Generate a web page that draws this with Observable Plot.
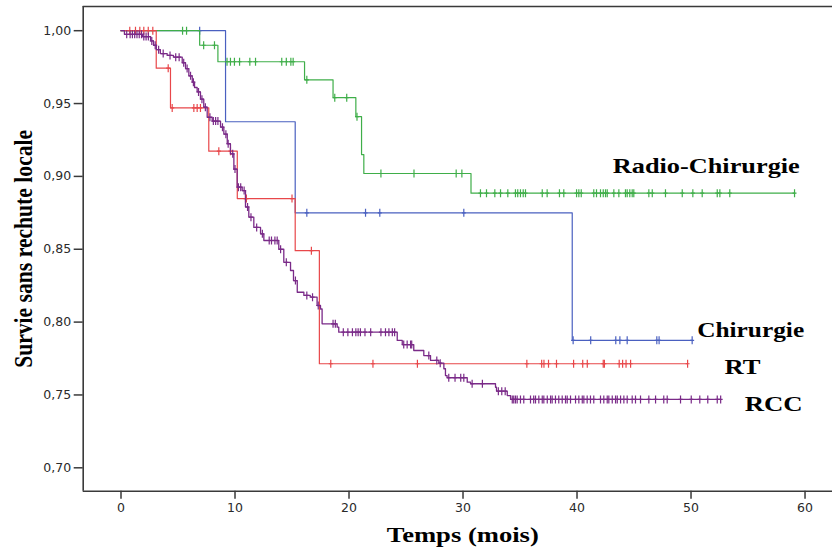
<!DOCTYPE html>
<html><head><meta charset="utf-8">
<script src="https://cdn.jsdelivr.net/npm/d3@7"></script>
<script src="https://cdn.jsdelivr.net/npm/@observablehq/plot@0.6"></script>
<style>html,body{margin:0;padding:0;background:#fff;overflow:hidden}</style>
</head><body><div id="chart"></div>
<script>
// ---- data ----
const seriesNames = ["Chirurgie", "Radio-Chirurgie", "RT", "RCC"];
const seriesColors = ["#4a60c0", "#3fae49", "#e8474a", "#7a2a88"];

const chirEvents = [[9.17,0.9375],[15.28,0.875],[39.58,0.7875]];
const chirEnd = 50.1;
const chirCensor = [6.9,16.3,21.45,22.7,30.07,39.66,41.2,43.4,43.76,44.4,47.0,47.2,50.1];

const radioChirEvents = [[6.9,0.990],[8.5,0.9787],[16.1,0.9663],[18.6,0.954],[20.6,0.941],[21.1,0.915],[21.3,0.902],[30.7,0.8885]];
const radioChirEnd = 59.1;
const radioChirCensor = [5.4,5.75,7.25,8.2,9.3,9.6,9.95,10.4,11.3,11.8,14.1,14.5,14.9,15.1,16.3,18.75,19.8,20.7,22.8,25.7,29.4,29.9,31.53,32.06,32.79,33.29,33.93,34.6,34.8,35.04,35.28,35.48,36.95,37.38,38.46,38.84,39.96,40.16,40.37,41.47,41.71,42.06,42.3,42.5,42.65,43.23,43.67,44.25,44.4,44.63,44.84,44.98,46.3,46.6,47.76,49.23,50.16,50.98,52.3,52.53,53.4,59.08];

const rtEvents = [[3.09,0.9743],[4.34,0.947],[7.7,0.9173],[10.2,0.8848],[15.28,0.849],[17.4,0.7714]];
const rtEnd = 49.7;
const rtCensor = [0.77,1.27,1.65,2.0,2.39,2.79,4.14,4.49,6.39,6.68,6.97,8.58,9.6,10.92,11.0,15.0,16.7,18.4,22.1,26.0,35.6,36.9,37.1,37.5,38.2,39.7,40.5,40.9,42.3,42.4,43.7,44.0,44.3,44.7,49.7];

const rccEvents = [[0.3,0.9975],[1.9,0.996],[2.6,0.993],[2.85,0.990],[3.1,0.987],[3.45,0.9843],[4.05,0.983],[4.6,0.9818],[5.37,0.978],[5.66,0.974],[5.95,0.969],[6.25,0.9647],[6.45,0.961],[6.68,0.958],[6.97,0.953],[7.26,0.9475],[7.56,0.9406],[8.0,0.938],[8.73,0.9338],[9.02,0.929],[9.32,0.9224],[9.6,0.9155],[9.9,0.905],[10.19,0.8926],[10.63,0.8903],[10.92,0.879],[11.21,0.872],[11.65,0.865],[12.24,0.8606],[12.53,0.856],[13.84,0.850],[14.28,0.841],[14.87,0.8354],[15.13,0.8285],[15.46,0.8205],[16.04,0.8183],[16.6,0.8171],[17.2,0.8114],[17.5,0.809],[17.64,0.7988],[18.96,0.7965],[19.1,0.7931],[24.23,0.7874],[24.67,0.7846],[25.68,0.7805],[26.56,0.777],[27.15,0.7737],[27.88,0.7718],[28.32,0.768],[28.46,0.7633],[28.6,0.7618],[30.37,0.7588],[30.66,0.7577],[32.85,0.7553],[32.94,0.7526],[33.88,0.7496],[34.17,0.7469]];
const rccEnd = 52.6;
const rccCensor = [0.5,0.8,1.0,1.2,1.4,1.6,1.8,2.0,2.2,2.4,2.7,3.0,3.3,3.7,4.3,4.8,5.1,5.5,5.8,6.1,6.35,6.8,7.1,7.4,7.8,8.1,8.3,8.5,8.9,9.2,9.4,9.8,10.0,10.3,10.5,10.8,11.1,11.4,11.9,12.4,13.0,13.2,13.5,13.7,14.0,14.5,15.3,16.3,16.8,17.3,18.6,18.8,19.5,19.9,20.3,20.6,20.8,21.0,21.4,21.9,22.8,23.2,23.5,23.8,24.0,24.8,25.1,25.4,25.5,27.0,27.7,28.0,28.75,29.3,29.8,30.07,30.8,31.7,33.1,33.4,33.7,34.32,34.45,34.6,34.75,35.04,35.33,35.92,36.2,36.36,36.65,36.95,37.09,37.39,37.68,37.82,38.11,38.4,38.7,38.99,39.14,39.43,39.87,40.16,40.46,40.6,40.89,41.18,41.47,42.06,42.35,42.65,42.79,43.09,43.38,43.53,43.82,44.11,44.4,44.84,45.13,45.57,46.3,46.89,47.61,47.91,49.08,50.02,50.77,51.47,52.3,52.6];

const xTicks = [0, 10, 20, 30, 40, 50, 60];
const yTicks = [0.70, 0.75, 0.80, 0.85, 0.90, 0.95, 1.00];
const yTickLabels = ["0,70", "0,75", "0,80", "0,85", "0,90", "0,95", "1,00"];
const xLabel = "Temps (mois)";
const yLabel = "Survie sans rechute locale";

// ---- build tables ----
const groups = [
  {name: "Chirurgie", events: chirEvents, end: chirEnd, censor: chirCensor, dx: 5, dy: -9.6, anchor: "start"},
  {name: "Radio-Chirurgie", events: radioChirEvents, end: radioChirEnd, censor: radioChirCensor, dx: 5, dy: -27.2, anchor: "end"},
  {name: "RT", events: rtEvents, end: rtEnd, censor: rtCensor, dx: 37, dy: 3.9, anchor: "start"},
  {name: "RCC", events: rccEvents, end: rccEnd, censor: rccCensor, dx: 24, dy: 5, anchor: "start"}
];
function sAt(events, t) { let s = 1; for (const [et, es] of events) if (et <= t) s = es; return s; }
function curve(g) {
  const pts = [{t: 0, S: 1, series: g.name}];
  for (const [t, s] of g.events) pts.push({t, S: s, series: g.name});
  pts.push({t: g.end, S: sAt(g.events, g.end), series: g.name});
  return pts;
}
function censorPts(g) { return g.censor.map(t => ({t, S: sAt(g.events, t), series: g.name})); }

const vtick = {draw(ctx) { ctx.moveTo(0, -4); ctx.lineTo(0, 4); ctx.moveTo(-2, 0); ctx.lineTo(2, 0); }};

const xDomain = [-3.316, 62.41];
const yDomain = [0.68394, 1.01661];
const axisColor = "#3a3a3a";

const marks = [
  Plot.ruleX([xDomain[0]], {stroke: axisColor, strokeWidth: 1.6}),
  Plot.ruleY([yDomain[0], yDomain[1]], {stroke: axisColor, strokeWidth: 1.6}),
  Plot.axisY(yTicks, {tickSize: 9, tickPadding: 3, tickFormat: d => yTickLabels[yTicks.indexOf(d)],
    fontSize: 12.5, fontFamily: "DejaVu Sans", fill: "#2a2a2a", stroke: axisColor, strokeWidth: 1.5, label: null}),
  Plot.axisX(xTicks, {tickSize: 8, tickPadding: 4, fontSize: 12.5, fontFamily: "DejaVu Sans",
    fill: "#2a2a2a", stroke: axisColor, strokeWidth: 1.5, label: null})
];
for (const g of groups) {
  const col = seriesColors[seriesNames.indexOf(g.name)];
  marks.push(Plot.line(curve(g), {x: "t", y: "S", curve: "step-after", stroke: col, strokeWidth: g.name === "RCC" ? 1.3 : 1.2}));
  marks.push(Plot.dot(censorPts(g), {x: "t", y: "S", symbol: vtick, r: 4, stroke: col, fill: "none", strokeWidth: 1.2}));
}
for (const g of groups) {
  const last = curve(g).at(-1);
  marks.push(Plot.text([last], {x: "t", y: "S", text: () => g.name, dx: g.dx, dy: g.dy, textAnchor: g.anchor,
    lineAnchor: "middle", fontFamily: "Liberation Serif", fontWeight: "bold", fontSize: 21, fill: "#000"}));
}
marks.push(Plot.text([xLabel], {frameAnchor: "bottom", text: d => d, dx: 5, dy: 44.3, textAnchor: "middle", lineAnchor: "middle",
  fontFamily: "Liberation Serif", fontWeight: "bold", fontSize: 20, fill: "#000"}));
marks.push(Plot.text([yLabel], {frameAnchor: "left", text: d => d, dx: -59.7, rotate: -90, textAnchor: "middle", lineAnchor: "middle",
  fontFamily: "Liberation Serif", fontWeight: "bold", fontSize: 26, fill: "#000"}));

const plot = Plot.plot({
  width: 832, height: 551,
  marginLeft: 82.7, marginRight: 0, marginTop: 6, marginBottom: 60.3,
  x: {domain: xDomain}, y: {domain: yDomain},
  style: {background: "#fff"},
  marks
});

const textWidths = {"Radio-Chirurgie": 187, "Chirurgie": 107, "RT": 36, "RCC": 58, "Temps (mois)": 152, "Survie sans rechute locale": 238};
d3.select(plot).selectAll("text").each(function() {
  const w = textWidths[this.textContent];
  if (w) { this.setAttribute("textLength", w); this.setAttribute("lengthAdjust", "spacingAndGlyphs"); }
});
document.getElementById("chart").appendChild(plot);
</script>
</body></html>
